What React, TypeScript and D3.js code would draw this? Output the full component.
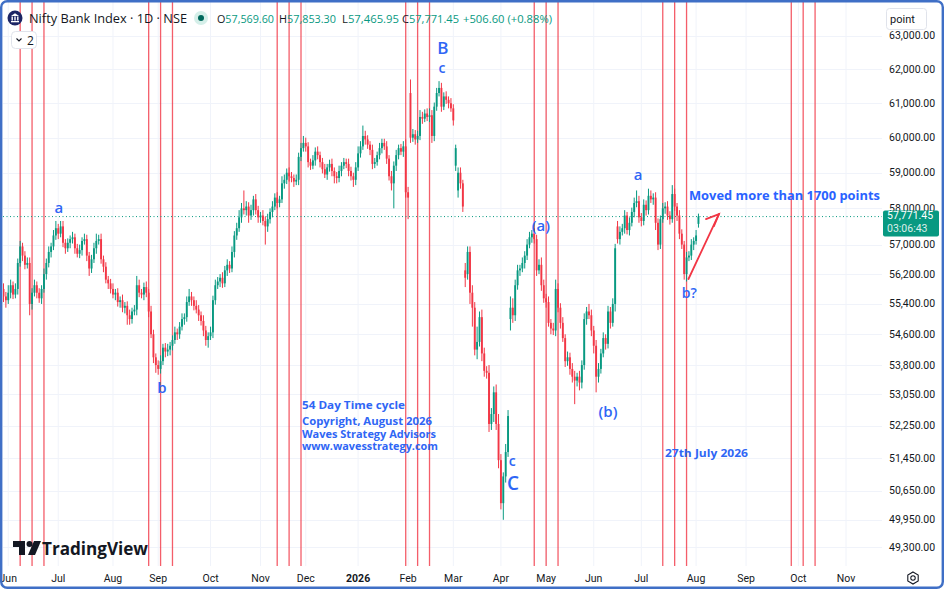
import React from 'react';
import * as d3 from 'd3';

// daily closes (Nifty Bank, Jun 2025 -> Jul 2026), one per trading day
const closes = [
  55600, 55500, 55700, 55900, 55650, 55800, 56500, 56950, 56700, 56450,
  56500, 55400, 55700, 55900, 55700, 55550, 55800, 56200, 56500, 56800,
  56950, 57250, 57450, 57300, 57500, 57050, 56900, 57050, 57150, 57200,
  56900, 56750, 56850, 57100, 57150, 56700, 56350, 56600, 56900, 57100,
  57150, 56600, 56400, 56050, 55950, 55800, 55650, 55700, 55450, 55500,
  55300, 55350, 55100, 55000, 55200, 55250, 55900, 55700, 55650, 55850,
  55700, 55200, 54600, 54000, 53800, 53700, 53900, 54250, 54150, 54200,
  54300, 54450, 54650, 54600, 54800, 55000, 55050, 55450, 55600, 55500,
  55350, 55250, 55100, 54950, 54700, 54450, 54550, 54650, 55500, 55900,
  56000, 56100, 55950, 56300, 56450, 56350, 56800, 57250, 57450, 57750,
  58000, 57950, 58050, 57800, 57950, 58250, 57950, 57750, 57800, 57650,
  57500, 57700, 57900, 58050, 58300, 58150, 58250, 58700, 58800, 59000,
  58900, 58850, 58750, 58800, 59450, 59700, 59850, 59750, 59300, 59200,
  59350, 59600, 59500, 59300, 59100, 58950, 59150, 59250, 59050, 58900,
  58850, 59050, 59200, 59300, 59250, 59050, 58900, 58800, 59150, 59550,
  59750, 60050, 59950, 59800, 59650, 59250, 59300, 59500, 59700, 59850,
  59750, 59400, 58900, 58700, 59200, 59500, 59700, 59600, 59750, 58450,
  58300, 60000, 60100, 59950, 60050, 60600, 60550, 60700, 60600, 60650,
  60050, 60900, 61300, 61450, 60900, 61200, 61100, 61000, 60850, 60500,
  59700, 59000, 58700, 58050, 56100, 56800, 55700, 55300, 54200, 54400,
  55050, 54100, 53650, 53600, 52300, 52550, 53100, 52300, 51400, 50350,
  51000, 51600, 52500, 55300, 55100, 55900, 56300, 56350, 56500, 56700,
  57000, 57200, 57300, 57150, 56300, 56450, 55900, 55550, 55450, 54900,
  54750, 54700, 55800, 55300, 54900, 54500, 53900, 54000, 53700, 53500,
  53400, 53500, 53350, 53800, 55000, 55200, 55100, 54700, 54300, 53500,
  53700, 54100, 54500, 54350, 55200, 54900, 55400, 56900, 57150, 57350,
  57450, 57800, 57400, 57600, 57900, 58150, 58200, 57750, 57650, 58100,
  57950, 58350, 58250, 58300, 57600, 57000, 57700, 58000, 58050, 57800,
  57700, 58400, 58050, 57800, 57300, 57000, 56200, 56650, 56700, 57000,
  57100, 57250, 57771.45,
];

// upper / lower shadow length in points above max(o,c) / below min(o,c)
const wickUp = [
  150, 120, 200, 150, 100, 150, 120, 150, 100, 120,
  150, 150, 120, 150, 100, 120, 100, 150, 120, 150,
  100, 150, 200, 120, 150, 150, 100, 120, 100, 150,
  100, 120, 150, 100, 150, 120, 100, 120, 150, 200,
  120, 150, 100, 120, 100, 120, 150, 100, 120, 100,
  150, 100, 120, 150, 100, 120, 250, 150, 100, 120,
  150, 100, 150, 120, 100, 120, 150, 100, 120, 150,
  100, 120, 150, 100, 120, 150, 100, 150, 200, 120,
  100, 150, 120, 100, 150, 120, 100, 150, 120, 150,
  120, 100, 150, 120, 150, 100, 150, 120, 150, 200,
  150, 500, 150, 120, 150, 100, 150, 120, 100, 150,
  120, 150, 100, 150, 120, 150, 100, 200, 150, 120,
  150, 120, 100, 150, 120, 150, 200, 150, 120, 100,
  150, 120, 150, 100, 120, 150, 100, 120, 150, 100,
  120, 150, 100, 120, 100, 150, 120, 100, 150, 200,
  150, 300, 150, 120, 100, 150, 120, 100, 150, 120,
  120, 150, 100, 150, 120, 150, 100, 120, 150, 200,
  150, 400, 150, 120, 150, 200, 150, 120, 150, 200,
  150, 120, 150, 200, 150, 120, 150, 100, 150, 120,
  100, 150, 150, 100, 200, 150, 150, 200, 150, 400,
  150, 200, 150, 120, 200, 150, 150, 200, 250, 150,
  100, 200, 150, 300, 250, 150, 150, 100, 150, 120,
  150, 150, 100, 150, 120, 150, 200, 150, 120, 150,
  100, 150, 250, 150, 120, 150, 100, 150, 120, 150,
  150, 100, 150, 120, 150, 120, 200, 150, 120, 150,
  150, 120, 150, 100, 150, 120, 150, 120, 150, 150,
  120, 150, 100, 150, 120, 150, 300, 150, 120, 150,
  120, 200, 150, 120, 150, 120, 100, 150, 120, 150,
  120, 250, 150, 100, 150, 120, 100, 150, 120, 150,
  100, 150, 81.85,
];

const wickDown = [
  150, 200, 100, 150, 120, 100, 150, 100, 150, 120,
  100, 300, 150, 100, 150, 120, 150, 100, 150, 120,
  150, 100, 120, 150, 100, 120, 150, 100, 150, 120,
  150, 100, 120, 150, 100, 150, 200, 120, 100, 150,
  100, 120, 150, 100, 150, 120, 100, 150, 120, 150,
  120, 150, 250, 150, 120, 100, 150, 120, 100, 150,
  120, 150, 100, 150, 200, 150, 120, 100, 150, 120,
  150, 120, 100, 150, 120, 100, 150, 120, 100, 150,
  120, 100, 150, 120, 150, 150, 200, 100, 150, 120,
  100, 150, 120, 100, 150, 120, 100, 150, 120, 100,
  150, 120, 150, 200, 120, 150, 120, 150, 150, 120,
  500, 150, 120, 150, 100, 150, 120, 100, 150, 120,
  150, 120, 150, 100, 150, 120, 100, 150, 150, 120,
  100, 150, 120, 150, 120, 100, 150, 120, 150, 200,
  150, 120, 150, 100, 120, 150, 120, 200, 150, 100,
  120, 100, 150, 120, 150, 150, 120, 100, 120, 150,
  100, 150, 120, 200, 700, 150, 120, 100, 150, 150,
  600, 150, 120, 150, 100, 120, 150, 100, 120, 150,
  200, 150, 120, 100, 150, 100, 120, 150, 100, 150,
  150, 200, 150, 150, 250, 150, 300, 500, 150, 250,
  120, 200, 150, 150, 200, 150, 200, 150, 200, 150,
  400, 150, 120, 300, 200, 150, 120, 150, 100, 150,
  120, 100, 150, 120, 150, 100, 150, 120, 150, 100,
  150, 120, 150, 120, 150, 100, 150, 120, 150, 150,
  600, 150, 200, 150, 120, 150, 100, 150, 200, 400,
  150, 120, 100, 150, 120, 150, 100, 200, 120, 150,
  100, 150, 120, 150, 100, 150, 120, 150, 150, 120,
  150, 120, 100, 150, 200, 150, 120, 100, 150, 120,
  150, 100, 120, 150, 150, 120, 150, 200, 100, 120,
  150, 100, 103.65,
];

// opens that do not sit on the previous close (gaps)
const gapOpens: Record<number, number> = {
  0: 55800, 171: 61300, 190: 59200, 191: 58500, 194: 56300, 195: 56200,
  213: 55000, 258: 57500, 292: 57569.6,
};

const priceTicks = [63000, 62000, 61000, 60000, 59000, 58000, 57000, 56200, 55400,
  54600, 53800, 53050, 52250, 51450, 50650, 49950, 49300];

const monthLabels = ['Jun', 'Jul', 'Aug', 'Sep', 'Oct', 'Nov', 'Dec', '2026', 'Feb', 'Mar',
  'Apr', 'May', 'Jun', 'Jul', 'Aug', 'Sep', 'Oct', 'Nov'];
// trading-day index where each month starts
const monthStarts = [2, 23, 46, 65, 87, 108, 127, 149, 170, 189, 209, 228, 248, 268, 291, 312, 334, 354];

// 54 day time cycle, three lines 5 days apart
const cycleFirst = 7;
const cycleDays = 54;
const cycleOffsets = [0, 5, 10];
const cycleCount = 7;

const waveLabels = [
  { text: 'a', i: 23.3, p: 58040, size: 15 },
  { text: 'b', i: 66.6, p: 53234, size: 15 },
  { text: 'B', i: 184.6, p: 62650, size: 17 },
  { text: 'c', i: 184.2, p: 62050, size: 14 },
  { text: '(a)', i: 225.8, p: 57539, size: 15 },
  { text: 'c', i: 213.7, p: 51400, size: 14 },
  { text: 'C', i: 214.1, p: 50840, size: 19 },
  { text: '(b)', i: 254, p: 52626, size: 15 },
  { text: 'a', i: 266.6, p: 58963, size: 15 },
  { text: 'b?', i: 288.2, p: 55717, size: 14 },
];

const noteLines = [
  { text: '54 Day Time cycle', i: 125.4, p: 52790, len: 103 },
  { text: 'Copyright, August 2026', i: 125.4, p: 52398, len: 130 },
  { text: 'Waves Strategy Advisors', i: 125.4, p: 52073, len: 134 },
  { text: 'www.wavesstrategy.com', i: 125.4, p: 51765, len: 136 },
  { text: '27th July 2026', i: 277.9, p: 51600, len: 83 },
  { text: 'Moved more than 1700 points', i: 288, p: 58372, len: 191 },
];

const arrowFrom = { i: 287.8, p: 56067 };
const arrowTo = { i: 300.6, p: 57842 };

const UP = '#089981';
const DOWN = '#f23645';
const BLUE = '#2f66f5';
const TEXT = '#131722';

export default function App() {
  const W = 944;
  const H = 589;
  const plotLeft = 3;
  const plotRight = 882;
  const plotTop = 2;
  const plotBottom = 566;

  const x = d3.scaleLinear().domain([0, 369]).range([3.5, 3.5 + 369 * 2.38]);
  const y = d3.scaleLog().domain([48855, 64036]).range([plotBottom, plotTop]);

  const candles = closes.map((c, i) => {
    const o = gapOpens[i] ?? (i > 0 ? closes[i - 1] : c);
    const hi = Math.max(o, c) + wickUp[i];
    const lo = Math.min(o, c) - wickDown[i];
    return { i, o, c, hi, lo };
  });
  const last = candles[candles.length - 1];

  const cycleLines: number[] = [];
  for (let k = 0; k < cycleCount; k++) {
    cycleOffsets.forEach(off => cycleLines.push(cycleFirst + k * cycleDays + off));
  }

  const ax = x(arrowFrom.i), ay = y(arrowFrom.p);
  const tx = x(arrowTo.i), ty = y(arrowTo.p);

  const font = '"Open Sans", "Noto Sans", sans-serif';
  const axisFont = 'Roboto, "Noto Sans", sans-serif';

  return (
    <div style={{ position: 'fixed', left: 0, top: 0 }}>
      <svg width={W} height={H} style={{ display: 'block', background: '#fff' }}>
        <defs>
          <clipPath id="plot">
            <rect x={plotLeft} y={plotTop} width={plotRight - plotLeft} height={plotBottom - plotTop} />
          </clipPath>
        </defs>
        <rect x={0} y={0} width={W} height={H} fill="#fff" />

        {/* grid */}
        <g stroke="#f0f3fa" strokeWidth={1}>
          {priceTicks.map(t => (
            <line key={t} x1={plotLeft} x2={plotRight} y1={Math.round(y(t)) + 0.5} y2={Math.round(y(t)) + 0.5} />
          ))}
          {monthStarts.map((m, k) => (
            <line key={k} x1={x(m)} x2={x(m)} y1={plotTop} y2={plotBottom} />
          ))}
        </g>

        <g clipPath="url(#plot)">
          {/* cycle lines */}
          {cycleLines.map(d => (
            <line key={d} x1={x(d)} x2={x(d)} y1={plotTop} y2={plotBottom}
              stroke={DOWN} strokeWidth={1.3} opacity={0.8} />
          ))}

          {/* last price line */}
          <line x1={plotLeft} x2={plotRight} y1={y(last.c)} y2={y(last.c)}
            stroke={UP} strokeWidth={1} strokeDasharray="1 2.5" />

          {/* candles */}
          {candles.map(d => {
            const col = d.c >= d.o ? UP : DOWN;
            const top = y(Math.max(d.o, d.c));
            const bot = y(Math.min(d.o, d.c));
            return (
              <g key={d.i}>
                <line x1={x(d.i)} x2={x(d.i)} y1={y(d.hi)} y2={y(d.lo)} stroke={col} strokeWidth={1} />
                <rect x={x(d.i) - 0.95} y={top} width={1.9} height={Math.max(1, bot - top)} fill={col} />
              </g>
            );
          })}

          {/* wave labels */}
          {waveLabels.map((l, k) => (
            <text key={k} x={x(l.i)} y={y(l.p)} textAnchor="middle" dominantBaseline="central"
              fontFamily={font} fontWeight={600} fontSize={l.size} fill={BLUE}>{l.text}</text>
          ))}

          {noteLines.map((n, k) => (
            <text key={k} x={x(n.i)} y={y(n.p)} dominantBaseline="central" fontFamily={font}
              fontWeight={700} fontSize={k === 5 ? 13 : 11} fill={k === 5 ? '#2962ff' : BLUE}
              textLength={n.len} lengthAdjust="spacingAndGlyphs">{n.text}</text>
          ))}

          {/* arrow */}
          <g stroke={DOWN} strokeWidth={1.8} fill="none" strokeLinecap="round">
            <line x1={ax} y1={ay} x2={tx} y2={ty} />
            <polyline points={`${tx - 13},${ty + 5} ${tx},${ty} ${tx - 5},${ty + 12}`} />
          </g>
        </g>

        {/* header */}
        <circle cx={15} cy={18} r={7.5} fill="#1c2564" />
        <g fill="#fff">
          <path d="M11 16 L15 13.2 L19 16 Z" />
          <rect x={11.5} y={16.5} width={1.4} height={4} />
          <rect x={14.3} y={16.5} width={1.4} height={4} />
          <rect x={17.1} y={16.5} width={1.4} height={4} />
          <rect x={11} y={21} width={8} height={1.3} />
        </g>
        <text x={29} y={23} fontFamily={font} fontSize={13} fill={TEXT}
          textLength={158} lengthAdjust="spacingAndGlyphs">Nifty Bank Index · 1D · NSE</text>
        <circle cx={201} cy={18} r={7} fill="#d5efe9" />
        <circle cx={201} cy={18} r={3} fill="#00695c" />
        {[
          ['O', '57,569.60', 217],
          ['H', '57,853.30', 279],
          ['L', '57,465.95', 342],
          ['C', '57,771.45', 402],
        ].map(([k, v, px]) => (
          <text key={k as string} x={px as number} y={23} fontFamily={font} fontSize={11}
            textLength={57} lengthAdjust="spacingAndGlyphs">
            <tspan fill={TEXT}>{k}</tspan><tspan fill={UP}>{v}</tspan>
          </text>
        ))}
        <text x={463} y={23} fontFamily={font} fontSize={11} fill={UP}
          textLength={89} lengthAdjust="spacingAndGlyphs">+506.60 (+0.88%)</text>
        <rect x={11.5} y={31.5} width={25} height={17} rx={4} fill="#fff" stroke="#e0e3eb" />
        <path d="M16.5 38.5 l2.5 2.5 l2.5 -2.5" stroke={TEXT} strokeWidth={1.1} fill="none" />
        <text x={27} y={44.5} fontFamily={font} fontSize={12} fill={TEXT}>2</text>

        {/* price axis */}
        {priceTicks.map(t => (
          <text key={t} x={889} y={y(t)} dominantBaseline="central" fontFamily={axisFont}
            fontSize={10.5} fill={TEXT}>{d3.format(',.2f')(t)}</text>
        ))}
        <rect x={886.5} y={8.5} width={40} height={21} rx={3} fill="#fff" stroke="#e0e3eb" />
        <text x={890} y={22.5} fontFamily={axisFont} fontSize={11} fill={TEXT}>point</text>
        <rect x={883} y={y(last.c) - 6} width={56} height={26} rx={2} fill={UP} />
        <text x={887} y={y(last.c) + 2} fontFamily={axisFont} fontSize={10.5} fill="#fff">57,771.45</text>
        <text x={887} y={y(last.c) + 15} fontFamily={axisFont} fontSize={10.5} fill="#fff" opacity={0.85}>03:06:43</text>

        {/* time axis */}
        {monthLabels.map((m, k) => (
          <text key={k} x={x(monthStarts[k])} y={582} textAnchor="middle" fontFamily={axisFont}
            fontSize={10.5} fontWeight={m === '2026' ? 700 : 400} fill={TEXT}>{m}</text>
        ))}
        <g transform="translate(913,578)" stroke={TEXT} strokeWidth={1.1} fill="none">
          <path d="M0 -6 L5.2 -3 L5.2 3 L0 6 L-5.2 3 L-5.2 -3 Z" />
          <circle r={2.2} />
        </g>

        {/* TradingView logo */}
        <g fill={TEXT}>
          <path d="M13 541 h12 v14 h-6 v-8 h-6 z" />
          <circle cx={29.5} cy={544} r={3} />
          <path d="M34 541 h7 l-6 14 h-7 z" />
        </g>
        <text x={42} y={555} fontFamily={font} fontWeight={700} fontSize={17} fill={TEXT}
          textLength={106} lengthAdjust="spacingAndGlyphs">TradingView</text>

        {/* frame */}
        <rect x={1.2} y={1.2} width={W - 2.4} height={H - 2.4} rx={6} fill="none" stroke="#3f6fc6" strokeWidth={2.4} />
      </svg>
    </div>
  );
}
